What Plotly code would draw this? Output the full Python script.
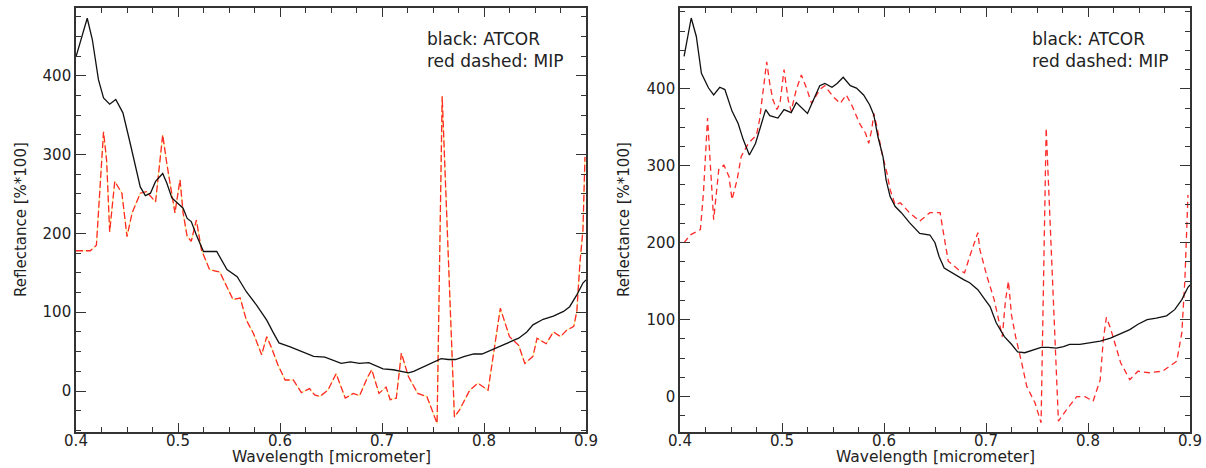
import plotly.graph_objects as go

# ---------------- data ----------------
atcor_l_wl = [0.400, 0.411, 0.416, 0.422, 0.427, 0.433, 0.439, 0.446, 0.453, 0.459, 0.463, 0.468,
              0.473, 0.478, 0.485, 0.489, 0.494, 0.500, 0.505, 0.509, 0.513, 0.518, 0.525, 0.538,
              0.548, 0.558, 0.567, 0.577, 0.587, 0.593, 0.599, 0.610, 0.620, 0.633, 0.644, 0.652,
              0.660, 0.669, 0.678, 0.687, 0.693, 0.701, 0.711, 0.718, 0.726, 0.731, 0.741, 0.750,
              0.758, 0.765, 0.772, 0.781, 0.790, 0.798, 0.809, 0.822, 0.834, 0.842, 0.848, 0.858,
              0.868, 0.878, 0.884, 0.891, 0.897, 0.900]
atcor_l = [424, 473, 446, 395, 372, 364, 370, 353, 315, 281, 259, 248,
           251, 266, 276, 264, 245, 238, 232, 219, 215, 198, 177, 177,
           154, 145, 126, 109, 90, 75, 61, 56, 51, 44, 43, 39,
           35, 37, 35, 36, 33, 28, 27, 25, 23, 25, 31, 37,
           41, 40, 40, 44, 47, 47, 53, 60, 67, 75, 84, 91,
           95, 101, 107, 122, 137, 141]

mip_l_wl = [0.400, 0.414, 0.420, 0.423, 0.427, 0.430, 0.433, 0.438, 0.445, 0.450, 0.455, 0.463,
            0.469, 0.478, 0.485, 0.489, 0.494, 0.497, 0.502, 0.505, 0.509, 0.513, 0.518, 0.523,
            0.531, 0.541, 0.548, 0.554, 0.561, 0.567, 0.574, 0.582, 0.587, 0.592, 0.598, 0.605,
            0.613, 0.621, 0.629, 0.634, 0.639, 0.647, 0.655, 0.664, 0.672, 0.678, 0.686, 0.690,
            0.697, 0.704, 0.708, 0.714, 0.719, 0.726, 0.735, 0.744, 0.754, 0.759, 0.771, 0.776,
            0.786, 0.794, 0.804, 0.816, 0.825, 0.834, 0.840, 0.848, 0.852, 0.861, 0.868, 0.875,
            0.881, 0.888, 0.891, 0.894, 0.897, 0.899]
mip_l = [178, 178, 185, 251, 329, 293, 202, 266, 251, 196, 226, 251,
         253, 240, 325, 289, 249, 226, 268, 226, 196, 190, 217, 179,
         154, 151, 132, 116, 118, 90, 73, 46, 69, 54, 33, 14,
         14, -2, 3, -5, -7, 1, 22, -9, -3, -6, 18, 27,
         -3, 5, -11, -9, 48, 18, -3, -7, -41, 374, -33, -24,
         1, 10, 1, 105, 69, 58, 35, 44, 67, 60, 75, 69,
         77, 82, 101, 162, 204, 297]

atcor_r_wl = [0.404, 0.411, 0.416, 0.421, 0.428, 0.433, 0.439, 0.444, 0.451, 0.457, 0.462, 0.468,
              0.474, 0.478, 0.484, 0.488, 0.496, 0.502, 0.509, 0.514, 0.519, 0.525, 0.531, 0.537,
              0.542, 0.549, 0.554, 0.560, 0.567, 0.573, 0.580, 0.586, 0.590, 0.594, 0.599, 0.602,
              0.606, 0.611, 0.617, 0.625, 0.635, 0.645, 0.650, 0.654, 0.659, 0.670, 0.678, 0.684,
              0.692, 0.699, 0.704, 0.710, 0.718, 0.725, 0.731, 0.738, 0.746, 0.754, 0.761, 0.769,
              0.776, 0.782, 0.792, 0.802, 0.812, 0.822, 0.831, 0.841, 0.849, 0.858, 0.867, 0.877,
              0.885, 0.892, 0.898, 0.900]
atcor_r = [442, 492, 468, 420, 401, 392, 402, 399, 371, 355, 334, 314,
           329, 347, 373, 365, 362, 373, 369, 382, 375, 368, 386, 404,
           407, 402, 407, 415, 404, 401, 392, 379, 366, 338, 312, 282,
           260, 247, 239, 226, 212, 210, 200, 182, 167, 158, 152, 148,
           139, 126, 117, 96, 78, 68, 58, 57, 61, 64, 64, 63,
           65, 68, 68, 70, 72, 76, 81, 87, 94, 100, 102, 105,
           113, 126, 142, 145]

mip_r_wl = [0.404, 0.410, 0.420, 0.423, 0.427, 0.431, 0.433, 0.438, 0.443, 0.448, 0.451, 0.456,
            0.460, 0.467, 0.475, 0.478, 0.485, 0.488, 0.491, 0.495, 0.498, 0.502, 0.506, 0.509,
            0.514, 0.519, 0.524, 0.529, 0.537, 0.542, 0.550, 0.557, 0.563, 0.569, 0.576, 0.582,
            0.585, 0.588, 0.590, 0.593, 0.598, 0.603, 0.606, 0.611, 0.616, 0.625, 0.635, 0.645,
            0.655, 0.658, 0.663, 0.673, 0.679, 0.684, 0.692, 0.694, 0.701, 0.708, 0.716, 0.719,
            0.722, 0.725, 0.729, 0.735, 0.740, 0.748, 0.754, 0.759, 0.771, 0.779, 0.789, 0.797,
            0.805, 0.812, 0.815, 0.818, 0.822, 0.832, 0.841, 0.849, 0.860, 0.873, 0.880, 0.887,
            0.892, 0.895, 0.898]
mip_r = [200, 210, 217, 265, 362, 265, 230, 295, 301, 286, 256, 282,
         312, 329, 340, 360, 435, 407, 386, 373, 381, 425, 386, 371,
         399, 418, 401, 381, 399, 404, 390, 381, 392, 377, 355, 342,
         329, 347, 368, 351, 316, 290, 269, 249, 252, 239, 228, 239,
         239, 215, 176, 165, 161, 182, 213, 191, 156, 126, 78, 124,
         150, 106, 78, 44, 13, -8, -34, 349, -32, -17, 0, 0,
         -6, 22, 74, 103, 89, 44, 22, 33, 31, 33, 39, 46,
         83, 152, 262]

x_ticks = [0.4, 0.5, 0.6, 0.7, 0.8, 0.9]
x_tick_labels = ["0.4", "0.5", "0.6", "0.7", "0.8", "0.9"]
y_ticks = [0, 100, 200, 300, 400]
y_tick_labels = ["0", "100", "200", "300", "400"]
x_title = "Wavelength [micrometer]"
y_title = "Reflectance [%*100]"
note_text = "black: ATCOR<br>red dashed: MIP"

# ---------------- figure ----------------
W, H = 1206, 468
FONT = "DejaVu Sans"
AX = "#333333"
TXT = "#222222"

fig = go.Figure()

# left panel
fig.add_trace(go.Scatter(x=mip_l_wl, y=mip_l, mode="lines", xaxis="x", yaxis="y",
                         line=dict(color="#ffee66", width=0.8), hoverinfo="skip", showlegend=False))
fig.add_trace(go.Scatter(x=mip_l_wl, y=mip_l, mode="lines", xaxis="x", yaxis="y",
                         line=dict(color="#ff2a2a", width=1.3, dash="7px,3px"), name="MIP",
                         showlegend=False))
fig.add_trace(go.Scatter(x=atcor_l_wl, y=atcor_l, mode="lines", xaxis="x", yaxis="y",
                         line=dict(color="#111111", width=1.3), name="ATCOR", showlegend=False))
# right panel
fig.add_trace(go.Scatter(x=mip_r_wl, y=mip_r, mode="lines", xaxis="x2", yaxis="y2",
                         line=dict(color="#ff2a2a", width=1.3, dash="6px,4px"), name="MIP",
                         showlegend=False))
fig.add_trace(go.Scatter(x=atcor_r_wl, y=atcor_r, mode="lines", xaxis="x2", yaxis="y2",
                         line=dict(color="#111111", width=1.3), name="ATCOR", showlegend=False))


def xaxis(domain, anchor):
    return dict(domain=domain, anchor=anchor, range=[0.4, 0.9], tickmode="array",
                tickvals=x_ticks, ticktext=x_tick_labels, ticks="inside", ticklen=9,
                tickwidth=1.3, tickcolor=AX, showline=True, linecolor=AX, linewidth=1.6,
                mirror="ticks", showgrid=False, zeroline=False, automargin=False,
                ticklabelstandoff=-6,
                minor=dict(dtick=0.025, tick0=0.4, ticks="inside", ticklen=5, tickwidth=1.2,
                           tickcolor=AX, showgrid=False),
                tickfont=dict(family=FONT, size=15, color=TXT))


def yaxis(domain, anchor, rng):
    return dict(domain=domain, anchor=anchor, range=rng, tickmode="array",
                tickvals=y_ticks, ticktext=y_tick_labels, ticks="inside", ticklen=10,
                tickwidth=1.3, tickcolor=AX, showline=True, linecolor=AX, linewidth=1.6,
                mirror="ticks", showgrid=False, zeroline=False, automargin=False,
                minor=dict(dtick=25, tick0=0, ticks="inside", ticklen=5, tickwidth=1.2,
                           tickcolor=AX, showgrid=False),
                tickfont=dict(family=FONT, size=15, color=TXT))


def pan_annotations(x_center_px, y_title_px, note_px):
    return [
        dict(text=note_text, xref="paper", yref="paper", x=note_px / W, y=1 - 27 / H,
             xanchor="left", yanchor="top", align="left", showarrow=False,
             font=dict(family=FONT, size=17, color=TXT)),
        dict(text=x_title, xref="paper", yref="paper", x=x_center_px / W, y=1 - 457 / H,
             xanchor="center", yanchor="middle", showarrow=False,
             font=dict(family=FONT, size=15.5, color=TXT)),
        dict(text=y_title, xref="paper", yref="paper", x=y_title_px / W, y=1 - 220 / H,
             xanchor="center", yanchor="middle", textangle=-90, showarrow=False,
             font=dict(family=FONT, size=15, color=TXT)),
    ]


ydom = [1 - 432 / H, 1 - 8 / H]
fig.update_layout(
    width=W, height=H, margin=dict(l=0, r=0, t=0, b=0, autoexpand=False),
    paper_bgcolor="white", plot_bgcolor="white",
    xaxis=xaxis([76 / W, 586 / W], "y"),
    yaxis=yaxis(ydom, "x", [-52, 486]),
    xaxis2=xaxis([680 / W, 1190 / W], "y2"),
    yaxis2=yaxis(ydom, "x2", [-46, 505]),
    annotations=pan_annotations(331, 21, 425) + pan_annotations(935, 624, 1030),
)

fig.write_html("out.html", config={"displayModeBar": False},
               post_script="document.body.style.margin='0px';")
